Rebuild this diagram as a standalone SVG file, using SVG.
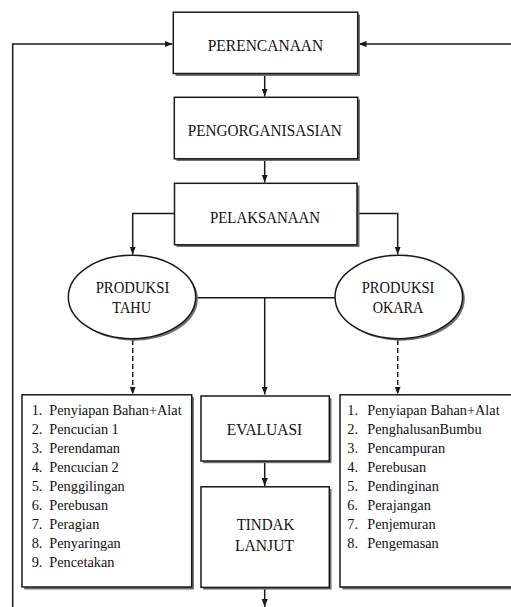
<svg xmlns="http://www.w3.org/2000/svg" width="511" height="607" viewBox="0 0 511 607">
<style>
.box{fill:#fff;stroke:#1a1a1a;stroke-width:1.5}
.shd{fill:#707070;stroke:none}
.ln{fill:none;stroke:#1a1a1a;stroke-width:1.5}
.dash{stroke-dasharray:5 3}
text{font-family:'Liberation Serif',serif;fill:#111}
.t{text-anchor:middle}
.h{font-size:17px}
.e{font-size:16px}
.li{font-size:14.3px}
</style>
<defs>
<marker id="arr" markerUnits="userSpaceOnUse" markerWidth="8" markerHeight="8" viewBox="0 0 8 8" refX="8" refY="4" orient="auto">
<path d="M0,0.9 L8,4 L0,7.1 Z" fill="#1a1a1a"/>
</marker>
</defs>
<rect width="511" height="607" fill="#fff"/>

<g id="connectors">
<polyline class="ln" points="12.7,607 12.7,44 172.5,44" marker-end="url(#arr)"/>
<line class="ln" x1="511" y1="44" x2="358.5" y2="44" marker-end="url(#arr)"/>
<line class="ln" x1="264.7" y1="74" x2="264.7" y2="96.5" marker-end="url(#arr)"/>
<line class="ln" x1="264.7" y1="159" x2="264.7" y2="182.5" marker-end="url(#arr)"/>
<polyline class="ln" points="174,213.5 132.7,213.5 132.7,254.5" marker-end="url(#arr)"/>
<polyline class="ln" points="357,213.5 397.7,213.5 397.7,254.5" marker-end="url(#arr)"/>
<line class="ln" x1="196" y1="297.7" x2="335" y2="297.7"/>
<line class="ln" x1="264.7" y1="297.7" x2="264.7" y2="394.5" marker-end="url(#arr)"/>
<line class="ln dash" x1="132.7" y1="340" x2="132.7" y2="394.5" marker-end="url(#arr)"/>
<line class="ln dash" x1="397.7" y1="340" x2="397.7" y2="394.5" marker-end="url(#arr)"/>
<line class="ln" x1="264.7" y1="461" x2="264.7" y2="486" marker-end="url(#arr)"/>
<line class="ln" x1="264.7" y1="588" x2="264.7" y2="607" marker-end="url(#arr)"/>
</g>

<g id="perencanaan">
<rect class="shd" x="175.5" y="14.5" width="184.5" height="61.5"/>
<rect class="box" x="173.3" y="12.2" width="184.4" height="61.3"/>
<text class="t h" x="265.5" y="51" textLength="115.6" lengthAdjust="spacingAndGlyphs">PERENCANAAN</text>
</g>

<g id="pengorganisasian">
<rect class="shd" x="176.5" y="99.5" width="183.5" height="61.5"/>
<rect class="box" x="174.3" y="97.3" width="183.4" height="61.5"/>
<text class="t h" x="264.7" y="136" textLength="154" lengthAdjust="spacingAndGlyphs">PENGORGANISASIAN</text>
</g>

<g id="pelaksanaan">
<rect class="shd" x="176.5" y="185.5" width="183" height="61.5"/>
<rect class="box" x="174.5" y="183.3" width="182.5" height="61.5"/>
<text class="t h" x="265" y="222.5" textLength="110" lengthAdjust="spacingAndGlyphs">PELAKSANAAN</text>
</g>

<g id="produksi-tahu">
<ellipse class="shd" cx="134.2" cy="299" rx="63.7" ry="41.7"/>
<ellipse class="box" cx="132" cy="297" rx="63.7" ry="41.7"/>
<text class="t e" x="132.5" y="292.5" textLength="73.6" lengthAdjust="spacingAndGlyphs">PRODUKSI</text>
<text class="t e" x="131.7" y="312.5" textLength="38.7" lengthAdjust="spacingAndGlyphs">TAHU</text>
</g>

<g id="produksi-okara">
<ellipse class="shd" cx="401" cy="299" rx="63.8" ry="41.7"/>
<ellipse class="box" cx="398.8" cy="297" rx="63.8" ry="41.7"/>
<text class="t e" x="398" y="292.5" textLength="72.6" lengthAdjust="spacingAndGlyphs">PRODUKSI</text>
<text class="t e" x="398" y="312.5" textLength="50.6" lengthAdjust="spacingAndGlyphs">OKARA</text>
</g>

<g id="list-tahu">
<rect class="shd" x="24.2" y="397" width="169.7" height="192.5"/>
<rect class="box" x="22" y="394.8" width="169.7" height="192.2"/>
<text class="li"><tspan x="31.7" y="415">1.</tspan><tspan x="49.3">Penyiapan Bahan+Alat</tspan></text>
<text class="li"><tspan x="31.7" y="434">2.</tspan><tspan x="49.3">Pencucian 1</tspan></text>
<text class="li"><tspan x="31.7" y="453">3.</tspan><tspan x="49.3">Perendaman</tspan></text>
<text class="li"><tspan x="31.7" y="472">4.</tspan><tspan x="49.3">Pencucian 2</tspan></text>
<text class="li"><tspan x="31.7" y="491">5.</tspan><tspan x="49.3">Penggilingan</tspan></text>
<text class="li"><tspan x="31.7" y="510">6.</tspan><tspan x="49.3">Perebusan</tspan></text>
<text class="li"><tspan x="31.7" y="529">7.</tspan><tspan x="49.3">Peragian</tspan></text>
<text class="li"><tspan x="31.7" y="548">8.</tspan><tspan x="49.3">Penyaringan</tspan></text>
<text class="li"><tspan x="31.7" y="567">9.</tspan><tspan x="49.3">Pencetakan</tspan></text>
</g>

<g id="evaluasi">
<rect class="shd" x="203.2" y="398.2" width="128.3" height="65"/>
<rect class="box" x="201" y="396" width="128.3" height="65"/>
<text class="t e" x="264.5" y="435" textLength="75.6" lengthAdjust="spacingAndGlyphs">EVALUASI</text>
</g>

<g id="tindak-lanjut">
<rect class="shd" x="203.2" y="489" width="128.3" height="100.6"/>
<rect class="box" x="201" y="486.8" width="128.3" height="100.6"/>
<text class="t e" x="265.5" y="530" textLength="57.6" lengthAdjust="spacingAndGlyphs">TINDAK</text>
<text class="t e" x="264.5" y="550.7" textLength="59" lengthAdjust="spacingAndGlyphs">LANJUT</text>
</g>

<g id="list-okara">
<rect class="shd" x="342.2" y="397" width="180" height="192.5"/>
<rect class="box" x="340" y="394.8" width="180" height="192.2"/>
<text class="li"><tspan x="347.3" y="415">1.</tspan><tspan x="367.3">Penyiapan Bahan+Alat</tspan></text>
<text class="li"><tspan x="347.3" y="434">2.</tspan><tspan x="367.3">PenghalusanBumbu</tspan></text>
<text class="li"><tspan x="347.3" y="453">3.</tspan><tspan x="367.3">Pencampuran</tspan></text>
<text class="li"><tspan x="347.3" y="472">4.</tspan><tspan x="367.3">Perebusan</tspan></text>
<text class="li"><tspan x="347.3" y="491">5.</tspan><tspan x="367.3">Pendinginan</tspan></text>
<text class="li"><tspan x="347.3" y="510">6.</tspan><tspan x="367.3">Perajangan</tspan></text>
<text class="li"><tspan x="347.3" y="529">7.</tspan><tspan x="367.3">Penjemuran</tspan></text>
<text class="li"><tspan x="347.3" y="548">8.</tspan><tspan x="367.3">Pengemasan</tspan></text>
</g>
</svg>
